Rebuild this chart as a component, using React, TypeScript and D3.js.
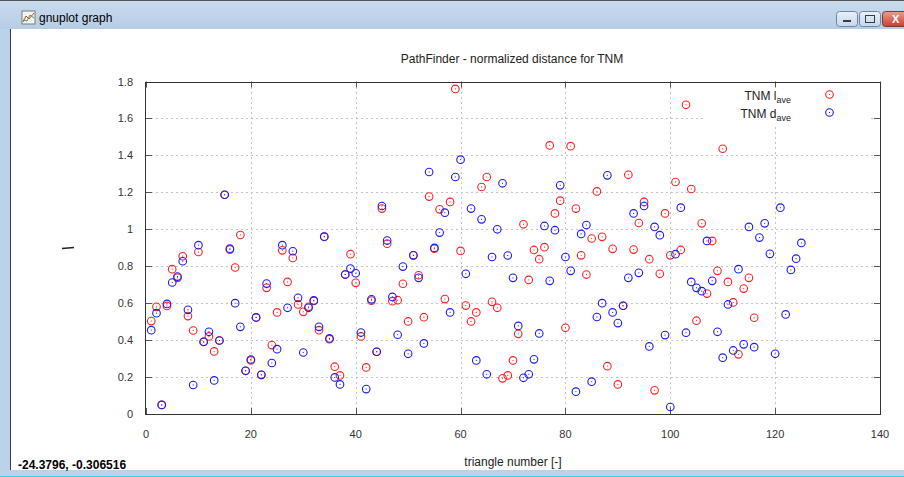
import React from "react";
import * as d3 from "d3";

// triangle index and normalized distances
const lAve: number[] = [
  0.503, 0.58, 0.049, 0.585, 0.784, 0.737, 0.854, 0.53, 0.452, 0.877,
  0.39, 0.42, 0.339, 0.398, 1.187, 0.89, 0.793, 0.969, 0.234, 0.29,
  0.523, 0.212, 0.683, 0.373, 0.55, 0.886, 0.715, 0.845, 0.593, 0.553,
  0.58, 0.612, 0.454, 0.96, 0.405, 0.256, 0.209, 0.755, 0.865, 0.71,
  0.42, 0.252, 0.614, 0.337, 1.112, 0.922, 0.611, 0.616, 0.705, 0.501,
  0.859, 0.751, 0.524, 1.177, 0.895, 1.108, 0.622, 1.148, 1.76, 0.883,
  0.587, 0.501, 0.55, 1.229, 1.283, 0.607, 0.575, 0.193, 0.209, 0.29,
  0.434, 1.027, 0.726, 0.888, 0.838, 0.903, 1.454, 1.086, 1.155, 0.467,
  1.45, 1.112, 0.859, 0.755, 0.95, 1.205, 0.959, 0.259, 0.894, 0.16,
  0.586, 1.295, 0.89, 1.034, 1.148, 0.838, 0.128, 0.759, 1.086, 0.859,
  1.256, 0.888, 1.674, 1.218, 0.505, 1.032, 0.652, 0.937, 0.775, 1.436,
  0.715, 0.604, 0.323, 0.679, 0.737, 0.521,
];

const dAve: number[] = [
  0.454, 0.546, 0.049, 0.596, 0.712, 0.744, 0.827, 0.564, 0.157, 0.914,
  0.391, 0.445, 0.182, 0.398, 1.187, 0.895, 0.6, 0.472, 0.234, 0.295,
  0.523, 0.212, 0.706, 0.276, 0.351, 0.914, 0.575, 0.881, 0.629, 0.333,
  0.575, 0.615, 0.472, 0.96, 0.409, 0.198, 0.16, 0.755, 0.787, 0.762,
  0.441, 0.135, 0.621, 0.337, 1.126, 0.939, 0.634, 0.429, 0.798, 0.326,
  0.859, 0.737, 0.382, 1.31, 0.899, 0.982, 1.09, 0.55, 1.283, 1.377,
  0.759, 1.112, 0.29, 1.054, 0.215, 0.85, 1.0, 1.249, 0.858, 0.737,
  0.477, 0.196, 0.215, 0.296, 0.436, 1.018, 0.721, 0.995, 1.238, 0.85,
  0.775, 0.121, 0.975, 1.023, 0.175, 0.525, 0.6, 1.292, 0.55, 0.492,
  0.586, 0.737, 1.086, 0.764, 1.126, 0.366, 1.013, 0.968, 0.427, 0.038,
  0.865, 1.117, 0.44, 0.715, 0.683, 0.665, 0.937, 0.721, 0.445, 0.305,
  0.593, 0.344, 0.784, 0.377, 1.013, 0.362, 0.955, 1.032, 0.867, 0.326,
  1.117, 0.539, 0.78, 0.841, 0.926,
];

const xTicks: number[] = [0, 20, 40, 60, 80, 100, 120, 140];
const yTicks: number[] = [0, 0.2, 0.4, 0.6, 0.8, 1, 1.2, 1.4, 1.6, 1.8];

const W = 904;
const H = 477;
const FONT = "'Liberation Sans', Arial, sans-serif";

const x = d3.scaleLinear().domain([0, 140]).range([146, 880]);
const y = d3.scaleLinear().domain([0, 1.8]).range([414, 81.5]);

const RED = "#ff2020";
const BLUE = "#1a1aff";

function Marker({ cx, cy, color }: { cx: number; cy: number; color: string }) {
  return (
    <g>
      <circle cx={cx} cy={cy} r={3.8} fill="none" stroke={color} strokeWidth={1.1} />
      <rect x={cx - 0.5} y={cy - 0.5} width={1} height={1} fill={color} />
    </g>
  );
}

export default function App() {
  const [x0, x1] = x.range();
  const [y0, y1] = y.range();
  const legend = { x: 706, y: 83, w: 164, h: 41 };

  return (
    <div style={{ position: "fixed", left: 0, top: 0, width: W, height: H, background: "#fff" }}>
      <svg width={W} height={H} style={{ display: "block" }}>
        <defs>
          <linearGradient id="titlebar" x1="0" y1="0" x2="0" y2="1">
            <stop offset="0" stopColor="#c9dbee" />
            <stop offset="1" stopColor="#b7cde6" />
          </linearGradient>
          <linearGradient id="closebtn" x1="0" y1="0" x2="0" y2="1">
            <stop offset="0" stopColor="#e8a093" />
            <stop offset="1" stopColor="#c7402c" />
          </linearGradient>
          <linearGradient id="btn" x1="0" y1="0" x2="0" y2="1">
            <stop offset="0" stopColor="#e9f0f8" />
            <stop offset="1" stopColor="#c5d6ea" />
          </linearGradient>
        </defs>

        {/* window frame */}
        <rect x={0} y={0} width={W} height={H} fill="#bcd2ea" />
        <rect x={10} y={29} width={W - 10} height={441} fill="#ffffff" />
        <line x1={10.5} y1={29} x2={10.5} y2={470} stroke="#3a3a3a" strokeWidth={1} />
        <rect x={0} y={0} width={W} height={29} fill="url(#titlebar)" />
        <line x1={0} y1={0.5} x2={W} y2={0.5} stroke="#555" />
        <line x1={0} y1={476.5} x2={W} y2={476.5} stroke="#3fd0f0" />

        {/* title bar */}
        <g>
          <rect x={22} y={11} width={13} height={13} fill="#f4f4f4" stroke="#7a7a7a" />
          <path d="M23,22 L26,16 L29,19 L34,13" fill="none" stroke="#d04040" strokeWidth={1} />
          <path d="M23,20 L27,21 L30,15 L34,18" fill="none" stroke="#40a040" strokeWidth={1} />
          <text x={39} y={22} fontFamily={FONT} fontSize={12} fill="#000">gnuplot graph</text>
          <rect x={836.5} y={11.5} width={21} height={15} rx={3} fill="url(#btn)" stroke="#6e86a6" />
          <rect x={843} y={20} width={8} height={2} fill="#3a3a3a" />
          <rect x={859.5} y={11.5} width={21} height={15} rx={3} fill="url(#btn)" stroke="#6e86a6" />
          <rect x={865.5} y={15.5} width={9} height={7} fill="none" stroke="#3a3a3a" />
          <rect x={882.5} y={11.5} width={30} height={15} rx={3} fill="url(#closebtn)" stroke="#7a3a30" />
          <text x={892} y={23} fontFamily={FONT} fontSize={11} fontWeight="bold" fill="#fff">X</text>
        </g>

        {/* grid */}
        <g stroke="#c4c4c4" strokeWidth={1} strokeDasharray="2,3">
          {yTicks.filter((t) => t > 0 && t < 1.8).map((t) => (
            <line key={"gy" + t} x1={x0} x2={x1} y1={Math.round(y(t)) + 0.5} y2={Math.round(y(t)) + 0.5} />
          ))}
          {xTicks.filter((t) => t > 0 && t < 140).map((t) => (
            <line key={"gx" + t} x1={Math.round(x(t)) + 0.5} x2={Math.round(x(t)) + 0.5} y1={y0} y2={y1} />
          ))}
        </g>

        {/* key */}
        <rect x={legend.x} y={legend.y} width={legend.w} height={legend.h} fill="#fff" />

        {/* tick marks on all four sides */}
        <g stroke="#555" strokeWidth={1}>
          {yTicks.map((t) => {
            const yy = Math.round(y(t)) + 0.5;
            return (
              <g key={"ty" + t}>
                <line x1={x0} x2={x0 + 6} y1={yy} y2={yy} />
                <line x1={x1 - 6} x2={x1} y1={yy} y2={yy} />
              </g>
            );
          })}
          {xTicks.map((t) => {
            const xx = Math.round(x(t)) + 0.5;
            return (
              <g key={"tx" + t}>
                <line x1={xx} x2={xx} y1={y0} y2={y0 - 6} />
                <line x1={xx} x2={xx} y1={y1} y2={y1 + 6} />
              </g>
            );
          })}
        </g>

        {/* data */}
        <g>
          {lAve.map((v, i) => (
            <Marker key={"l" + i} cx={x(i + 1)} cy={y(v)} color={RED} />
          ))}
          {dAve.map((v, i) => (
            <Marker key={"d" + i} cx={x(i + 1)} cy={y(v)} color={BLUE} />
          ))}
        </g>

        {/* border */}
        <rect x={x0 - 0.5} y={Math.round(y1) + 0.5} width={x1 - x0 + 1} height={y0 - Math.round(y1)} fill="none" stroke="#333" strokeWidth={1} />

        {/* axis labels */}
        <g fontFamily={FONT} fontSize={11} fill="#333">
          {yTicks.map((t) => (
            <text key={"ly" + t} x={133} y={y(t) + 4} textAnchor="end">
              {d3.format("~g")(t)}
            </text>
          ))}
          {xTicks.map((t) => (
            <text key={"lx" + t} x={x(t)} y={438} textAnchor="middle">
              {t}
            </text>
          ))}
        </g>

        {/* key entries */}
        <g fontFamily={FONT} fontSize={12} fill="#222">
          <text x={791} y={100} textAnchor="end">
            TNM l<tspan fontSize={9} dy={3}>ave</tspan>
          </text>
          <text x={791} y={118} textAnchor="end">
            TNM d<tspan fontSize={9} dy={3}>ave</tspan>
          </text>
        </g>
        <Marker cx={829.5} cy={94.5} color={RED} />
        <Marker cx={829.5} cy={112.5} color={BLUE} />

        <text x={512} y={63} textAnchor="middle" fontFamily={FONT} fontSize={12} fill="#222">
          PathFinder - normalized distance for TNM
        </text>
        <text x={513} y={466} textAnchor="middle" fontFamily={FONT} fontSize={12} fill="#222">
          triangle number [-]
        </text>
        <line x1={62} y1={248.5} x2={74} y2={247.5} stroke="#222" strokeWidth={1.5} />

        {/* status line */}
        <text x={18} y={469} fontFamily={FONT} fontSize={12} fontWeight="bold" fill="#000">
          -24.3796, -0.306516
        </text>
      </svg>
    </div>
  );
}
